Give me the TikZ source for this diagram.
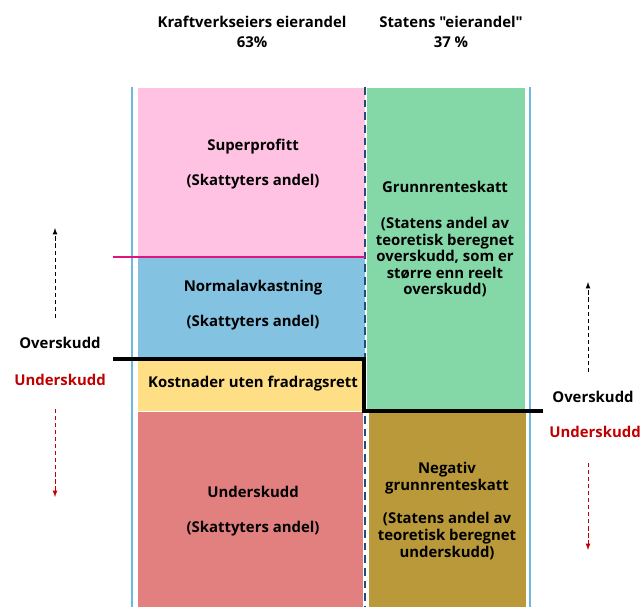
\documentclass[tikz,border=0pt]{standalone}
\usepackage{fontspec}
\setmainfont{Open Sans}[Ligatures=TeXOff]
\usepackage{tikz}
\usetikzlibrary{arrows,positioning}
\definecolor{pinkfill}{HTML}{FFC2E2}
\definecolor{bluefill}{HTML}{84C2E2}
\definecolor{yellowfill}{HTML}{FFDF86}
\definecolor{redfill}{HTML}{E28080}
\definecolor{greenfill}{HTML}{84D8A8}
\definecolor{brownfill}{HTML}{B9993A}
\definecolor{framecol}{HTML}{6CB8E0}
\definecolor{dividercol}{HTML}{1F4E79}
\definecolor{profitcol}{HTML}{E0137F}
\definecolor{losscol}{HTML}{C00000}
\tikzset{
  lbl/.style={font=\bfseries\fontsize{10.6}{11.8}\selectfont, align=center, inner sep=0pt},
  loss lbl/.style={lbl, text=losscol},
  frameline/.style={framecol, line width=1.2pt},
  divider/.style={dividercol, line width=1.6pt, dash pattern=on 5.5pt off 3.5pt},
  stepline/.style={black, line width=2.2pt},
  upshot/.style={-latex, densely dashed, line width=0.6pt},
  downshot/.style={-latex, densely dashed, line width=0.6pt, losscol},
}

\begin{document}
\begin{tikzpicture}[x=0.025cm,y=-0.025cm]
      \useasboundingbox (0,0) rectangle (642,607);

      \fill[pinkfill] (138,88) rectangle (365,257);
      \fill[bluefill] (138,257) rectangle (365,360);
      \fill[yellowfill] (138,361) rectangle (365,411);
      \fill[redfill] (138,412) rectangle (363,607);
      \fill[greenfill] (367,88) rectangle (525,412);
      \fill[brownfill] (369,412) rectangle (526,607);

      \draw[frameline] (132,87) -- (132,607);
      \draw[frameline] (530,87) -- (530,607);
      \draw[divider] (365,87) -- (365,607);

      \node[lbl] (owner) at (252,32) {Kraftverkseiers eierandel\\[2.4pt]63\%};
      \node[lbl] (state) at (451,32) {Statens "eierandel"\\[2.4pt]37 \%};

      \node[lbl] (super) at (253,164) {Superprofitt\\[13pt](Skattyters andel)};
      \node[lbl] (normal) at (253,305) {Normalavkastning\\[13pt](Skattyters andel)};
      \node[lbl] (cost) at (253,384) {Kostnader uten fradragsrett};
      \node[lbl] (deficit) at (253,511) {Underskudd\\[13pt](Skattyters andel)};
      \node[lbl] (rent) at (445,239) {Grunnrenteskatt\\[14pt](Statens andel av\\teoretisk beregnet\\overskudd, som er\\st\o rre enn reelt\\overskudd)};
      \node[lbl] (negrent) at (447,511) {Negativ\\grunnrenteskatt\\[12pt](Statens andel av\\teoretisk beregnet\\underskudd)};

      \node[lbl] (overL) at (60,343) {Overskudd};
      \node[loss lbl] (underL) at (60,380) {Underskudd};
      \node[lbl] (overR) at (593,397) {Overskudd};
      \node[loss lbl] (underR) at (595,432) {Underskudd};

      \coordinate (superL) at (113,257);
      \coordinate (superR) at (365,257);
      \coordinate (zeroL) at (113,359);
      \coordinate (stepA) at (364,359);
      \coordinate (stepB) at (364,411);
      \coordinate (zeroR) at (543,411);
      \draw[profitcol, line width=1.5pt] (superL) -- (superR);
      \draw[stepline] (zeroL) -- (stepA) -- (stepB) -- (zeroR);

      \coordinate (upL0) at (55,318);
      \coordinate (upL1) at (55,228);
      \coordinate (dnL0) at (55,409);
      \coordinate (dnL1) at (55,497);
      \coordinate (upR0) at (588,372);
      \coordinate (upR1) at (588,282);
      \coordinate (dnR0) at (588,463);
      \coordinate (dnR1) at (588,550);
      \draw[upshot] (upL0) -- (upL1);
      \draw[downshot] (dnL0) -- (dnL1);
      \draw[upshot] (upR0) -- (upR1);
      \draw[downshot] (dnR0) -- (dnR1);
    \end{tikzpicture}
\end{document}
